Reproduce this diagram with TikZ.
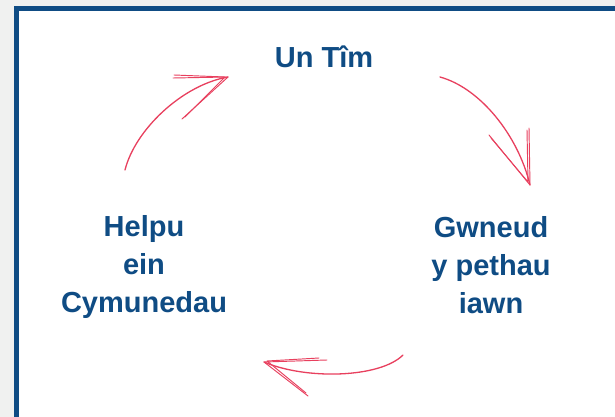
\documentclass[tikz,border=0pt]{standalone}
\usepackage{fontspec}
\setmainfont{Liberation Sans}
\definecolor{navy}{HTML}{0F4C84}
\definecolor{inkred}{HTML}{E8405E}
\definecolor{paper}{HTML}{F0F1F0}
\tikzstyle{stage} = [text=navy, font=\fontsize{29}{38}\selectfont\bfseries,
align=center, inner sep=0pt]
\tikzstyle{scribble} = [draw=inkred, line width=1.3pt, line cap=round, line join=round]
\tikzstyle{barb} = [scribble, line width=0.95pt]

\begin{document}
\begin{tikzpicture}[x=1pt, y=-1pt]
		\useasboundingbox (0,0) rectangle (615,417);
		\fill[paper] (0,0) rectangle (615,417);
		\fill[navy] (14,6) rectangle (615,417);
		\fill[white] (19,11) rectangle (615,417);
		
		\node(untim)[stage, anchor=base] at (324,68) {Un Tîm};
		\node(gwneud)[stage] at (491,265) {Gwneud\\y pethau\\iawn};
		\node(helpu)[stage] at (144,267) {Helpu\\ein\\Cymunedau};
		
		\coordinate (helpuout) at (125,170);
		\coordinate (untimin) at (228,77);
		\coordinate (untimout) at (440,77);
		\coordinate (gwneudin) at (530,185);
		\coordinate (gwneudout) at (403,355);
		\coordinate (helpuin) at (264,362);
		
		\draw[scribble] (helpuout) .. controls +(10,-40) and +(-46,8) .. (untimin);
		\draw[barb] ([shift={(-55,1)}]untimin) -- (untimin) -- ([shift={(-46,42)}]untimin);
		\draw[barb] ([shift={(-54,-2)}]untimin) -- ([shift={(-3,0)}]untimin) -- ([shift={(-43,40)}]untimin);
		
		\draw[scribble] (untimout) .. controls +(40,11) and +(-12,-50) .. (gwneudin);
		\draw[barb] ([shift={(-1,-57)}]gwneudin) -- (gwneudin) -- ([shift={(-41,-50)}]gwneudin);
		\draw[barb] ([shift={(-3,-55)}]gwneudin) -- ([shift={(-2,-3)}]gwneudin) -- ([shift={(-39,-47)}]gwneudin);
		
		\draw[scribble] (gwneudout) .. controls +(-23,23) and +(42,18) .. (helpuin);
		\draw[barb] ([shift={(63,-2)}]helpuin) -- (helpuin) -- ([shift={(44,34)}]helpuin);
		\draw[barb] ([shift={(55,-4)}]helpuin) -- ([shift={(3,-1)}]helpuin) -- ([shift={(42,31)}]helpuin);
\end{tikzpicture}
\end{document}
